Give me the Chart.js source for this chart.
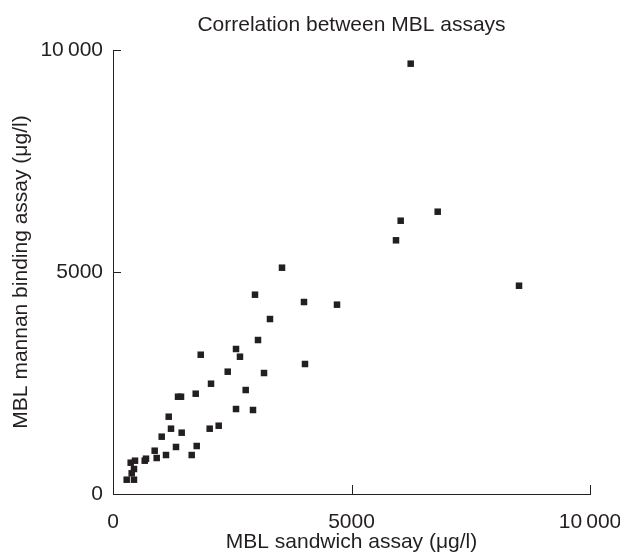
<!DOCTYPE html>
<html>
<head>
<meta charset="utf-8">
<script src="https://cdn.jsdelivr.net/npm/chart.js@4/dist/chart.umd.min.js"></script>
<style>
html,body{margin:0;padding:0;background:#fff;}
#wrap{width:620px;height:553px;}
</style>
</head>
<body>
<div id="wrap"><canvas id="c" width="620" height="553"></canvas></div>
<script>
const titleText = "Correlation between MBL assays";
const xTitle = "MBL sandwich assay (\u03bcg/l)";
const yTitle = "MBL mannan binding assay (\u03bcg/l)";
const tickValues = [0, 5000, 10000];

const sandwich = [3543, 2977, 4004, 4696, 3291, 3040, 1839, 2579, 2662, 4025, 2405, 3166, 2055, 1363, 1426, 1734, 2782, 2579, 2935, 1168, 1216, 1440, 2027, 2216, 1021, 1321, 1755, 874, 916, 1111, 1650, 665, 692, 371, 461, 440, 392, 287, 440, 6241, 6807, 6031, 5933, 8512];
const mannan   = [5097, 4489, 4324, 4264, 3941, 3468, 3137, 3266, 3092, 2928, 2755, 2725, 2484, 2191, 2191, 2259, 2342, 1914, 1892, 1741, 1471, 1381, 1471, 1538, 1291, 1059, 1081, 975, 811, 878, 878, 750, 795, 705, 750, 563, 466, 322, 322, 9692, 6358, 6155, 5714, 4691];

const ink = '#231f20';
const FONT = '"Liberation Sans", Arial, Helvetica, sans-serif';

const pts = sandwich.map((x, i) => ({x: x, y: mannan[i]}));

function fmt(v){
  if (v >= 10000) return String(v).replace(/(\d)(?=(\d{3})+$)/g, '$1\u2009');
  return String(v);
}

const titlePlugin = {
  id: 'centeredTitle',
  afterDraw(chart){
    const ctx = chart.ctx, a = chart.chartArea;
    ctx.save();
    ctx.fillStyle = ink;
    ctx.font = '21px ' + FONT;
    ctx.textAlign = 'center';
    ctx.textBaseline = 'middle';
    ctx.fillText(titleText, (a.left + a.right) / 2, 25);
    ctx.restore();
  }
};

const innerTicks = {
  id: 'innerTicks',
  afterDraw(chart){
    const ctx = chart.ctx, a = chart.chartArea;
    const xs = chart.scales.x, ys = chart.scales.y;
    ctx.save();
    ctx.strokeStyle = ink;
    ctx.lineWidth = 1;
    ctx.beginPath();
    tickValues.forEach(v => {
      const px = Math.round(xs.getPixelForValue(v)) + 0.5;
      ctx.moveTo(px, a.bottom);
      ctx.lineTo(px, a.bottom - 9);
      const py = Math.round(ys.getPixelForValue(v)) + 0.5;
      ctx.moveTo(a.left, py);
      ctx.lineTo(a.left + 8, py);
    });
    ctx.stroke();
    ctx.restore();
  }
};

new Chart(document.getElementById('c'), {
  type: 'scatter',
  data: {
    datasets: [{
      data: pts,
      pointStyle: 'rect',
      pointRadius: 4.6,
      pointHoverRadius: 4.6,
      borderWidth: 0,
      backgroundColor: ink,
      borderColor: ink
    }]
  },
  options: {
    responsive: false,
    animation: false,
    devicePixelRatio: 1,
    layout: { padding: { left: 0, right: 30, top: 50, bottom: 0 } },
    plugins: { legend: { display: false }, tooltip: { enabled: false }, title: { display: false } },
    scales: {
      x: {
        type: 'linear', min: 0, max: 10000,
        afterFit(s){ s.height = 59; s.paddingLeft = 0; s.paddingRight = 0; },
        afterBuildTicks(s){ s.ticks = tickValues.map(v => ({value: v})); },
        grid: { display: true, drawOnChartArea: false, drawTicks: false },
        border: { display: true, color: ink, width: 1 },
        ticks: { color: ink, font: { family: FONT, size: 21 }, padding: 16, maxRotation: 0, autoSkip: false, callback: v => fmt(v) },
        title: { display: true, text: xTitle, color: ink, font: { family: FONT, size: 21 }, padding: { top: 0, bottom: -2 } }
      },
      y: {
        type: 'linear', min: 0, max: 10000,
        afterFit(s){ s.width = 113; s.paddingTop = 0; s.paddingBottom = 0; },
        afterBuildTicks(s){ s.ticks = tickValues.map(v => ({value: v})); },
        grid: { display: true, drawOnChartArea: false, drawTicks: false },
        border: { display: true, color: ink, width: 1 },
        ticks: { color: ink, font: { family: FONT, size: 21 }, padding: 10, autoSkip: false, callback: v => fmt(v) },
        title: { display: true, text: yTitle, color: ink, font: { family: FONT, size: 21 }, padding: { top: 9, bottom: 0 } }
      }
    }
  },
  plugins: [titlePlugin, innerTicks]
});
</script>
</body>
</html>
